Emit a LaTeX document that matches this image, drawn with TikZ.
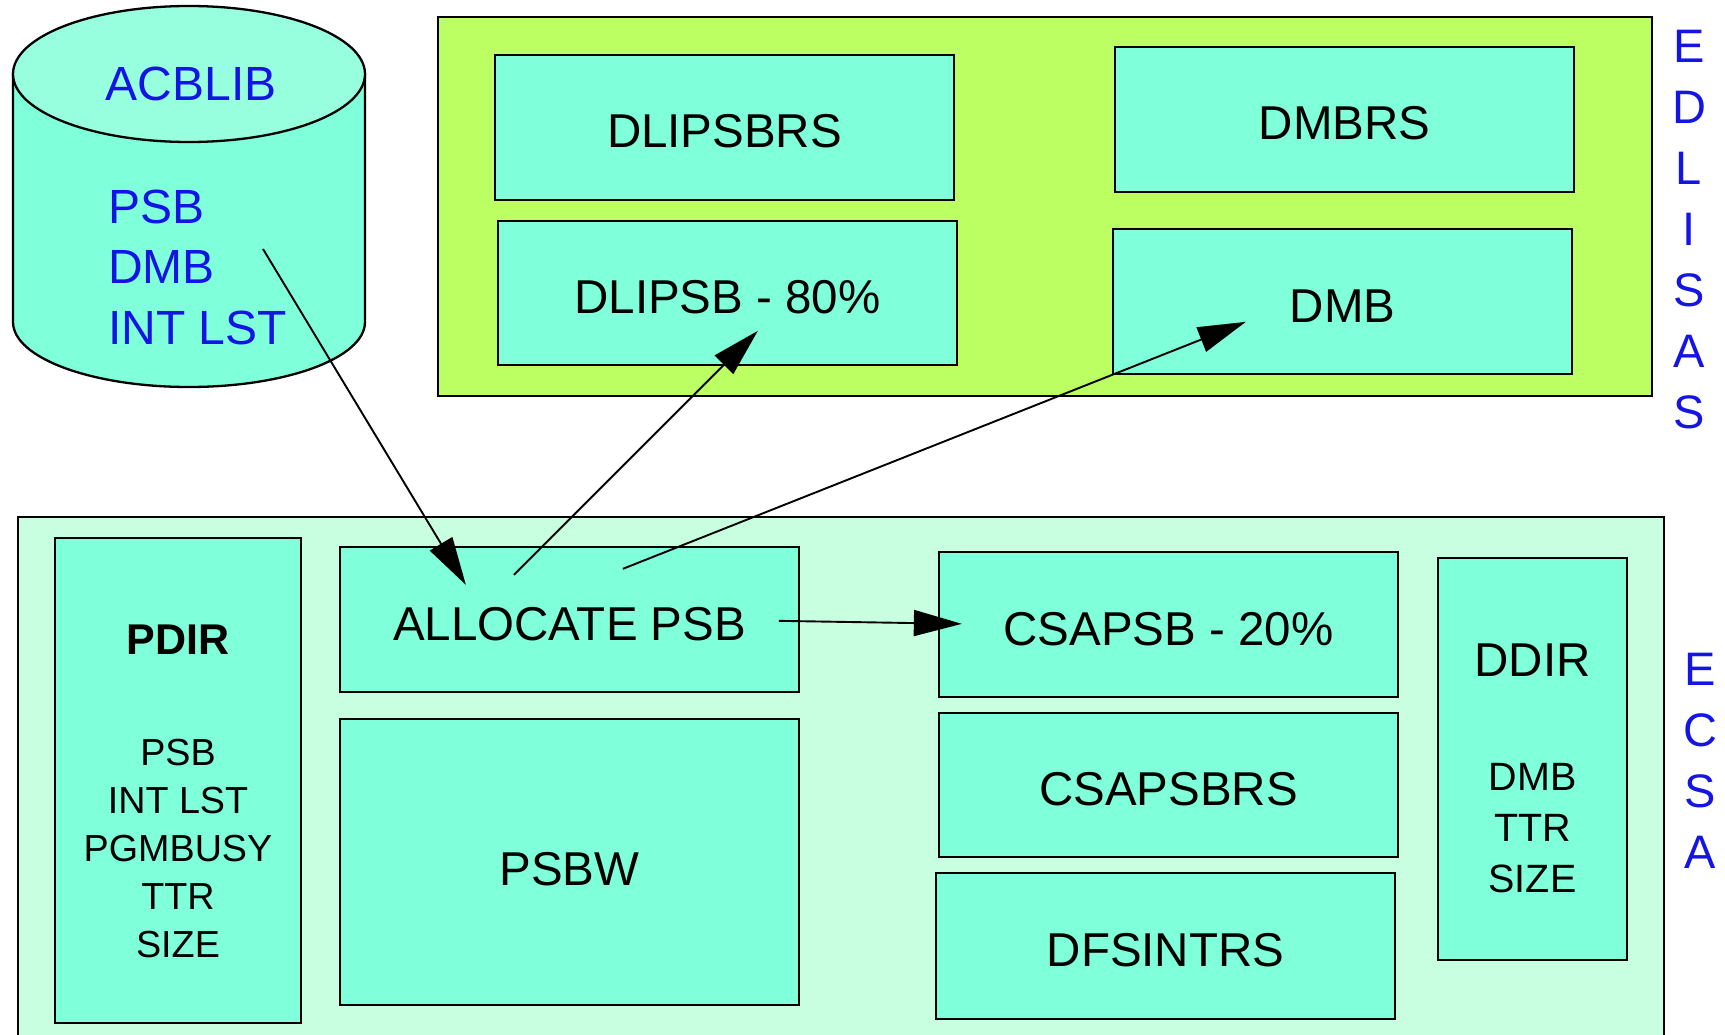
\documentclass[tikz,border=0pt]{standalone}
\usepackage{fontspec}
\setmainfont{Liberation Sans}
\usetikzlibrary{arrows.meta}

\definecolor{aqua}{RGB}{127,255,218}
\definecolor{aqualight}{RGB}{152,255,222}
\definecolor{edlgreen}{RGB}{187,255,98}
\definecolor{ecsabg}{RGB}{200,255,224}
\definecolor{lblblue}{RGB}{20,20,228}

\tikzset{
  area/.style={draw=black, line width=2.3pt},
  blk/.style={draw=black, line width=2.3pt, fill=aqua, inner sep=0pt,
    text height=41pt, text depth=0pt,
    font=\fontsize{47.5}{50}\selectfont},
  lbl/.style={inner sep=0pt, font=\fontsize{47.5}{50}\selectfont},
  bluelbl/.style={inner sep=0pt, text=lblblue, font=\fontsize{48}{61}\selectfont},
  vlbl/.style={inner sep=0pt, text=lblblue, align=center,
    font=\fontsize{47}{61}\selectfont},
  flow/.style={line width=1.9pt, -{Triangle[length=48pt,width=26pt]}},
}

\begin{document}
\begin{tikzpicture}[x=1pt, y=-1pt]
\useasboundingbox (0,0) rectangle (1725,1035);
\clip (0,0) rectangle (1725,1035);
\fill[white] (0,0) rectangle (1725,1035);

% ---- ACBLIB data set (cylinder) ----
\draw[line width=2.3pt, fill=aqua]
  (13,74) -- (13,322) arc[start angle=180, end angle=0, x radius=176, y radius=65]
  -- (365,74) -- cycle;
\draw[line width=2.3pt, fill=aqualight] (189,74) ellipse[x radius=176, y radius=68];
\node[bluelbl] (acblib) at (191,84) {ACBLIB};
\node[bluelbl, anchor=west] (libpsb) at (108,207) {PSB};
\node[bluelbl, anchor=west] (libdmb) at (108,267) {DMB};
\node[bluelbl, anchor=west] (libint) at (108,328) {INT LST};
\coordinate (libout) at (263,249);

% ---- EDLISAS area ----
\draw[area, fill=edlgreen] (438,17) rectangle (1652,396);
\node[blk, minimum width=459pt, minimum height=145pt] (dlipsbrs) at (724.5,127.5) {DLIPSBRS};
\node[blk, minimum width=459pt, minimum height=144pt] (dlipsb) at (727.5,293) {DLIPSB - 80\%};
\node[blk, minimum width=459pt, minimum height=145pt] (dmbrs) at (1344.5,119.5) {DMBRS};
\node[blk, minimum width=459pt, minimum height=145pt] (dmb) at (1342.5,301.5) {DMB};
\node[vlbl] (edlisas) at (1689,230) {E\\D\\L\\I\\S\\A\\S};

% ---- ECSA area ----
\draw[area, fill=ecsabg] (18,517) rectangle (1664,1060);
\node[blk, minimum width=246pt, minimum height=485pt] (pdir) at (178,780.5) {};
\node[inner sep=0pt, font=\fontsize{43}{46}\selectfont\bfseries] (pdirt) at (178,640) {PDIR};
\node[inner sep=0pt, align=center, font=\fontsize{37.7}{48}\selectfont] (pdirl) at (178,849)
  {PSB\\INT LST\\PGMBUSY\\TTR\\SIZE};

\node[blk, minimum width=459pt, minimum height=145pt] (alloc) at (569.5,619.5) {ALLOCATE PSB};
\node[blk, minimum width=459pt, minimum height=286pt, text height=47pt] (psbw) at (569.5,862) {PSBW};

\node[blk, minimum width=459pt, minimum height=145pt] (csapsb) at (1168.5,624.5) {CSAPSB - 20\%};
\node[blk, minimum width=459pt, minimum height=144pt] (csapsbrs) at (1168.5,785) {CSAPSBRS};
\node[blk, minimum width=459pt, minimum height=146pt] (dfsintrs) at (1165.5,946) {DFSINTRS};

\node[blk, minimum width=189pt, minimum height=402pt] (ddir) at (1532.5,759) {};
\node[lbl] (ddirt) at (1532.5,660) {DDIR};
\node[inner sep=0pt, align=center, font=\fontsize{39.5}{51}\selectfont] (ddirl) at (1532.5,828)
  {DMB\\TTR\\SIZE};

\node[vlbl] (ecsa) at (1700,761) {E\\C\\S\\A};

% ---- connectors ----
\draw[flow] (libout) -- ([shift={(127,39)}]alloc.north west);
\draw[flow] ([shift={(175,29)}]alloc.north west) -- ([shift={(261,111)}]dlipsb.north west);
\draw[flow] ([shift={(284,23)}]alloc.north west) -- ([shift={(134,94)}]dmb.north west);
\draw[flow] ([shift={(440,75)}]alloc.north west) -- ([shift={(24,73)}]csapsb.north west);
\end{tikzpicture}
\end{document}
